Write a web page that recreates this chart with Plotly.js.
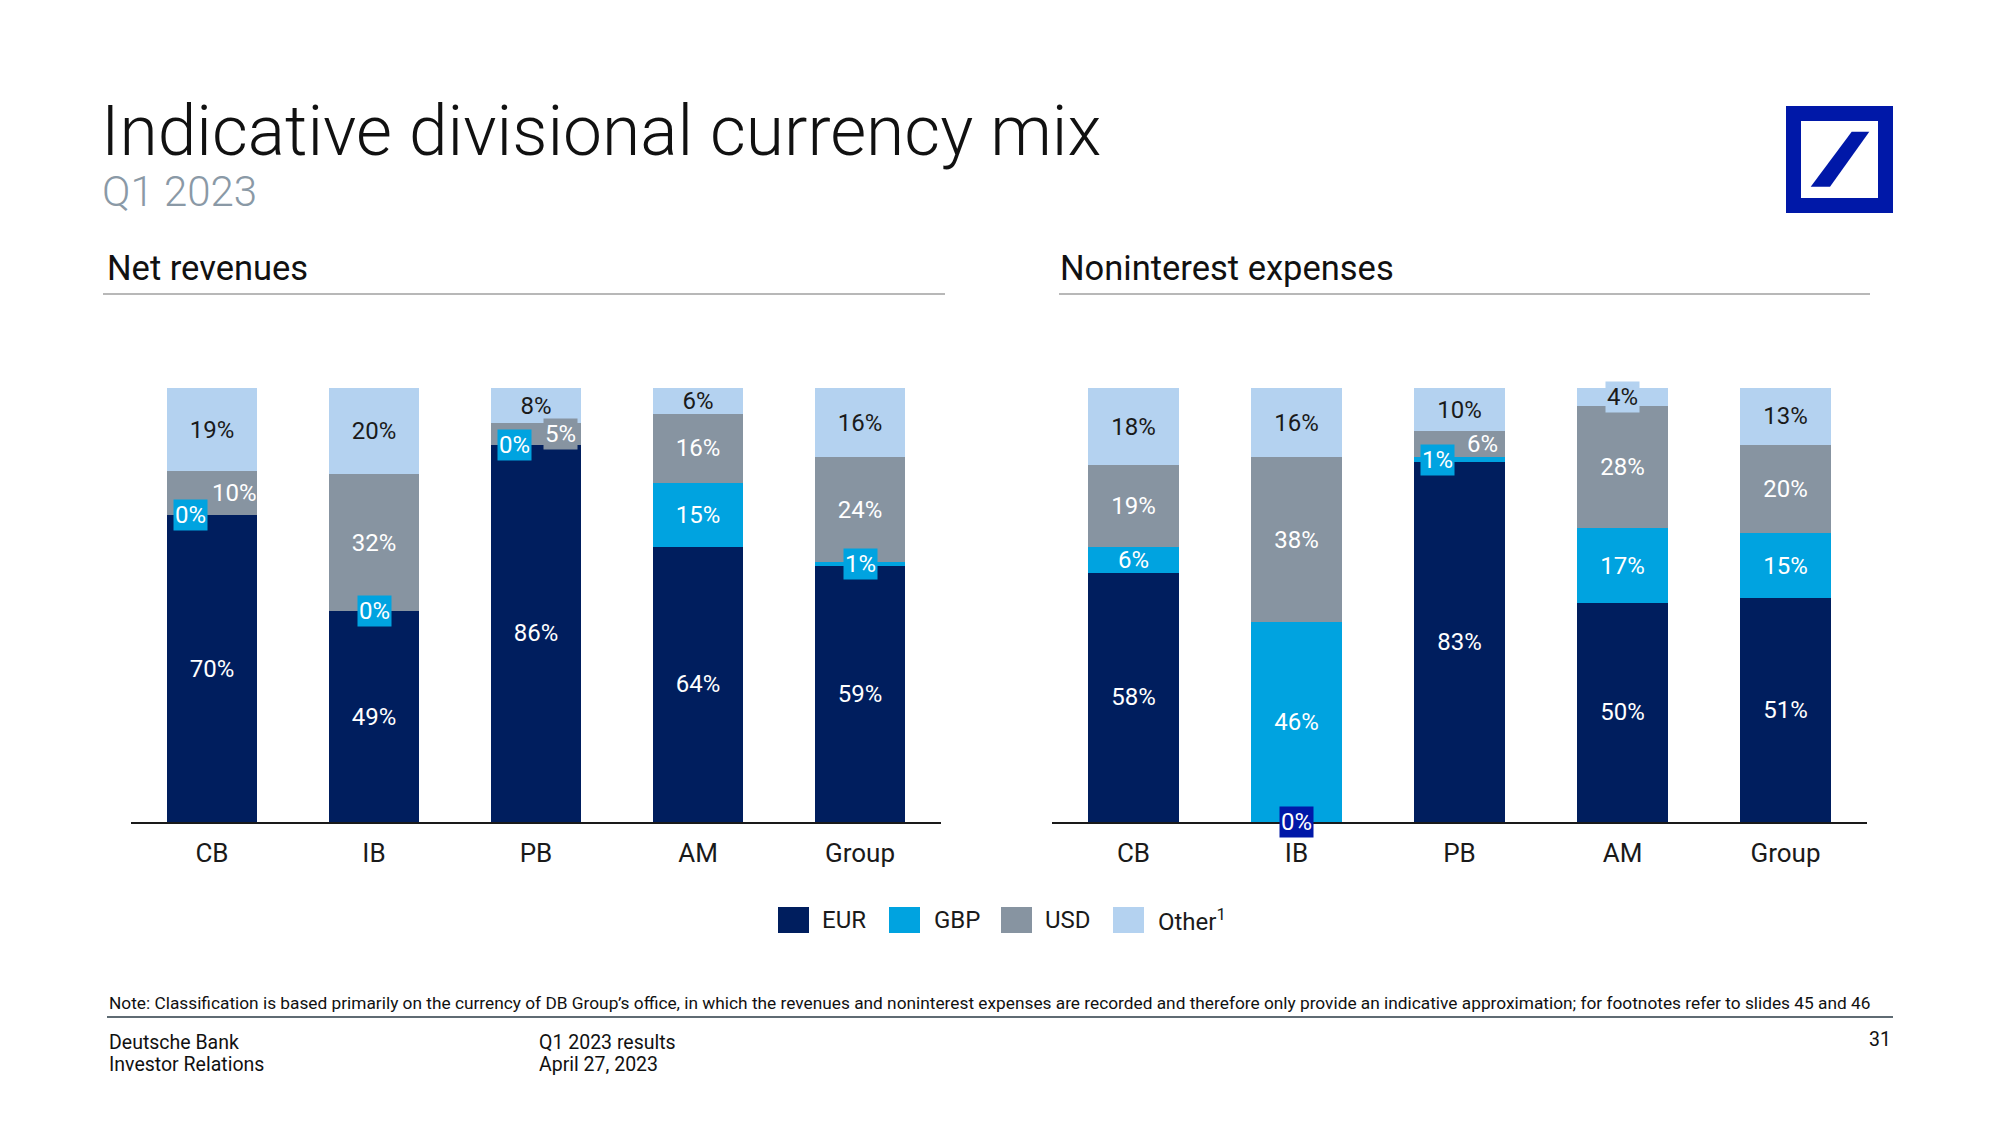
<!DOCTYPE html>
<html>
<head>
<meta charset="utf-8">
<script src="https://cdn.plot.ly/plotly-3.0.1.min.js"></script>
<style>
html,body{margin:0;padding:0;background:#fff;}
#chart{width:2000px;height:1125px;}
</style>
</head>
<body>
<div id="chart"></div>
<script>
// ---------- data ----------
const categories = ['CB', 'IB', 'PB', 'AM', 'Group'];
const seriesNames = ['EUR', 'GBP', 'USD', 'Other'];

// Net revenues (%)
const revEUR   = [70, 49, 86, 64, 59];
const revGBP   = [0, 0, 0, 15, 1];
const revUSD   = [10, 32, 5, 16, 24];
const revOther = [19, 20, 8, 6, 16];

// Noninterest expenses (%)
const expEUR   = [58, 0, 83, 50, 51];
const expGBP   = [6, 46, 1, 17, 15];
const expUSD   = [19, 38, 6, 28, 20];
const expOther = [18, 16, 10, 4, 13];

// ---------- styles ----------
const FONT = 'Roboto, "Liberation Sans", Arial, sans-serif';
const colors = ['#001E5E', '#00A3E0', '#8794A1', '#B4D2F0'];
const W = 2000, H = 1125;
const px = x => x / W;
const py = y => 1 - y / H;

// label placement tweaks for small segments (series index s)
const revTweaks = [
  {cat: 'CB', s: 1, dx: -22, bg: colors[1], fc: '#fff'},
  {cat: 'CB', s: 2, dx: 22, bg: null, fc: '#fff'},
  {cat: 'IB', s: 1, dx: 0, bg: colors[1], fc: '#fff'},
  {cat: 'PB', s: 1, dx: -22, bg: colors[1], fc: '#fff'},
  {cat: 'PB', s: 2, dx: 24, bg: colors[2], fc: '#fff'},
  {cat: 'Group', s: 1, dx: 0, bg: colors[1], fc: '#fff'}
];
const expTweaks = [
  {cat: 'IB', s: 0, dx: 0, bg: '#0018A8', fc: '#fff'},
  {cat: 'PB', s: 1, dx: -22, bg: colors[1], fc: '#fff'},
  {cat: 'PB', s: 2, dx: 23, bg: null, fc: '#fff'},
  {cat: 'AM', s: 3, dx: 0, bg: colors[3], fc: '#1a1a1a'}
];

function isTweaked(tweaks, i, s) {
  return tweaks.some(t => t.cat === categories[i] && t.s === s);
}

function buildTraces(vals, xa, ya, tweaks) {
  return seriesNames.map((name, s) => ({
    type: 'bar',
    x: categories,
    y: vals[s],
    name: name,
    xaxis: xa,
    yaxis: ya,
    marker: {color: colors[s], line: {width: 0}},
    text: vals[s].map((v, i) => v + '%'),
    texttemplate: vals[s].map((v, i) => isTweaked(tweaks, i, s) ? '' : '%{text}'),
    textposition: vals[s].map((v, i) => isTweaked(tweaks, i, s) ? 'none' : 'inside'),
    insidetextanchor: 'middle',
    constraintext: 'none',
    textangle: 0,
    textfont: {family: FONT, size: 24, color: s === 3 ? '#1a1a1a' : '#ffffff'},
    hoverinfo: 'skip',
    showlegend: false
  }));
}

function buildTweakAnnotations(vals, xa, ya, tweaks) {
  return tweaks.map(t => {
    const i = categories.indexOf(t.cat);
    const total = vals.reduce((a, arr) => a + arr[i], 0);
    let base = 0;
    for (let k = 0; k < t.s; k++) base += vals[k][i];
    const yc = (base + vals[t.s][i] / 2) / total * 100;
    return {
      xref: xa, yref: ya, x: t.cat, y: yc,
      text: vals[t.s][i] + '%',
      showarrow: false, xshift: t.dx,
      bgcolor: t.bg || 'rgba(0,0,0,0)',
      borderpad: 1,
      font: {family: FONT, size: 24, color: t.fc}
    };
  });
}

const revVals = [revEUR, revGBP, revUSD, revOther];
const expVals = [expEUR, expGBP, expUSD, expOther];

const data = [
  ...buildTraces(revVals, 'x', 'y', revTweaks),
  ...buildTraces(expVals, 'x2', 'y2', expTweaks)
];

const yDomain = [py(822), py(388)];
const xCommon = {
  type: 'category', range: [-0.5, 4.5], showline: true, linecolor: '#1a1a1a', linewidth: 1.5,
  ticks: '', showgrid: false, zeroline: false, fixedrange: true,
  tickfont: {family: FONT, size: 26, color: '#1a1a1a'}, ticklabelstandoff: 7
};
const yCommon = {range: [0, 100], visible: false, showgrid: false, zeroline: false, fixedrange: true};

// legend (custom)
const legendItems = [
  {label: 'EUR', sx: 778, tx: 820},
  {label: 'GBP', sx: 889, tx: 932},
  {label: 'USD', sx: 1001, tx: 1043},
  {label: 'Other<sup>1</sup>', sx: 1113, tx: 1156}
];

const shapes = [
  // section underlines
  {type: 'line', xref: 'paper', yref: 'paper', x0: px(103), x1: px(945), y0: py(294), y1: py(294), line: {color: '#a0a0a0', width: 1.5}},
  {type: 'line', xref: 'paper', yref: 'paper', x0: px(1059), x1: px(1870), y0: py(294), y1: py(294), line: {color: '#a0a0a0', width: 1.5}},
  // footer line
  {type: 'line', xref: 'paper', yref: 'paper', x0: px(107), x1: px(1893), y0: py(1017), y1: py(1017), line: {color: '#2a3a44', width: 1.5}},
  // logo
  {type: 'rect', xref: 'paper', yref: 'paper', x0: px(1786), x1: px(1893), y0: py(213), y1: py(106), fillcolor: '#0018A8', line: {width: 0}},
  {type: 'rect', xref: 'paper', yref: 'paper', x0: px(1801), x1: px(1878), y0: py(198), y1: py(121), fillcolor: '#ffffff', line: {width: 0}},
  {type: 'path', xref: 'paper', yref: 'paper',
   path: `M ${px(1810.7)} ${py(186.7)} L ${px(1830)} ${py(186.7)} L ${px(1869.3)} ${py(131.7)} L ${px(1851.7)} ${py(131.7)} Z`,
   fillcolor: '#0018A8', line: {width: 0}}
];
legendItems.forEach((it, s) => {
  shapes.push({type: 'rect', xref: 'paper', yref: 'paper', x0: px(it.sx), x1: px(it.sx + 31), y0: py(933), y1: py(907),
    fillcolor: colors[s], line: {width: 0}});
});

const annotations = [
  {xref: 'paper', yref: 'paper', x: px(99), y: py(131), xanchor: 'left', yanchor: 'middle', showarrow: false,
   text: 'Indicative divisional currency mix', font: {family: FONT, size: 69.5, weight: 300, color: '#111111'}},
  {xref: 'paper', yref: 'paper', x: px(100), y: py(192), xanchor: 'left', yanchor: 'middle', showarrow: false,
   text: 'Q1 2023', font: {family: FONT, size: 42, weight: 300, color: '#8a99a6'}},
  {xref: 'paper', yref: 'paper', x: px(105), y: py(268), xanchor: 'left', yanchor: 'middle', showarrow: false,
   text: 'Net revenues', font: {family: FONT, size: 34.5, color: '#111111'}},
  {xref: 'paper', yref: 'paper', x: px(1058), y: py(268), xanchor: 'left', yanchor: 'middle', showarrow: false,
   text: 'Noninterest expenses', font: {family: FONT, size: 34.5, color: '#111111'}},
  {xref: 'paper', yref: 'paper', x: px(107), y: py(1003), xanchor: 'left', yanchor: 'middle', showarrow: false,
   text: 'Note: Classification is based primarily on the currency of DB Group’s office, in which the revenues and noninterest expenses are recorded and therefore only provide an indicative approximation; for footnotes refer to slides 45 and 46',
   font: {family: FONT, size: 17.3, color: '#111111'}},
  {xref: 'paper', yref: 'paper', x: px(107), y: py(1042), xanchor: 'left', yanchor: 'middle', showarrow: false,
   text: 'Deutsche Bank', font: {family: FONT, size: 19.5, color: '#111111'}},
  {xref: 'paper', yref: 'paper', x: px(107), y: py(1064), xanchor: 'left', yanchor: 'middle', showarrow: false,
   text: 'Investor Relations', font: {family: FONT, size: 19.5, color: '#111111'}},
  {xref: 'paper', yref: 'paper', x: px(537), y: py(1042), xanchor: 'left', yanchor: 'middle', showarrow: false,
   text: 'Q1 2023 results', font: {family: FONT, size: 19.5, color: '#111111'}},
  {xref: 'paper', yref: 'paper', x: px(537), y: py(1064), xanchor: 'left', yanchor: 'middle', showarrow: false,
   text: 'April 27, 2023', font: {family: FONT, size: 19.5, color: '#111111'}},
  {xref: 'paper', yref: 'paper', x: px(1893), y: py(1039), xanchor: 'right', yanchor: 'middle', showarrow: false,
   text: '31', font: {family: FONT, size: 19.5, color: '#111111'}},
  ...legendItems.map(it => ({xref: 'paper', yref: 'paper', x: px(it.tx), y: py(920), xanchor: 'left', yanchor: 'middle',
   showarrow: false, text: it.label, font: {family: FONT, size: 24, color: '#1a1a1a'}})),
  ...buildTweakAnnotations(revVals, 'x', 'y', revTweaks),
  ...buildTweakAnnotations(expVals, 'x2', 'y2', expTweaks)
];

const layout = {
  width: W, height: H,
  margin: {l: 0, r: 0, t: 0, b: 0, pad: 0},
  paper_bgcolor: '#ffffff', plot_bgcolor: 'rgba(0,0,0,0)',
  barmode: 'stack', barnorm: 'percent', bargap: 0.44,
  showlegend: false,
  font: {family: FONT},
  xaxis: Object.assign({domain: [px(131), px(941)], anchor: 'y'}, xCommon),
  yaxis: Object.assign({domain: yDomain, anchor: 'x'}, yCommon),
  xaxis2: Object.assign({domain: [px(1052), px(1867)], anchor: 'y2'}, xCommon),
  yaxis2: Object.assign({domain: yDomain, anchor: 'x2'}, yCommon),
  shapes: shapes,
  annotations: annotations
};

Plotly.newPlot('chart', data, layout, {displayModeBar: false, staticPlot: true});
</script>
</body>
</html>
